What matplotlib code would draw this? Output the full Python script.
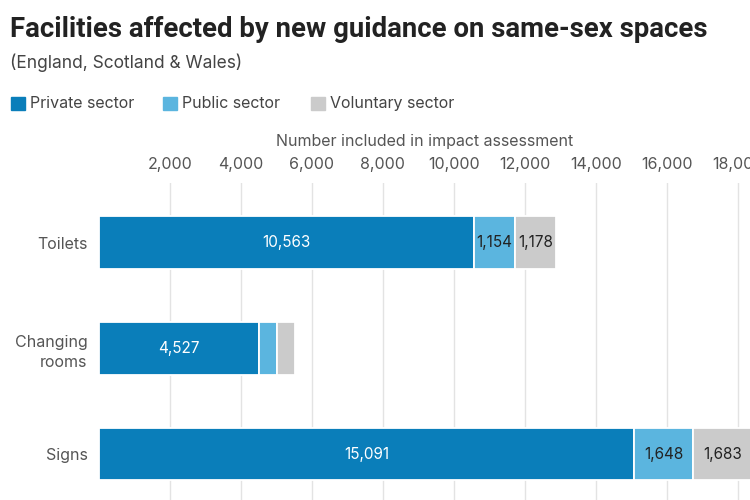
import numpy as np
import matplotlib.pyplot as plt
from matplotlib.patches import Rectangle

plt.rcParams['font.family'] = ['Inter', 'DejaVu Sans']

# data
categories = ["Toilets", "Changing\nrooms", "Signs"]
private = np.array([10563, 4527, 15091])
public = np.array([1154, 490, 1648])
voluntary = np.array([1178, 500, 1683])
series_names = ["Private sector", "Public sector", "Voluntary sector"]
x_ticks = [2000, 4000, 6000, 8000, 10000, 12000, 14000, 16000, 18000]

colors = ["#0a7eba", "#5bb5df", "#cbcbcb"]

fig = plt.figure(figsize=(7.5, 5), dpi=100)
ax = fig.add_axes([98.7 / 750, 0, 1 - 98.7 / 750, 317 / 500])

y = np.arange(len(categories))
lefts = np.zeros(len(categories))
for vals, c in zip([private, public, voluntary], colors):
    ax.barh(y, vals, left=lefts, height=0.5, color=c, edgecolor="white", linewidth=1.3, zorder=3)
    lefts = lefts + vals

# value labels (skip the tiny changing-room segments)
for i in range(len(categories)):
    ax.text(private[i] / 2, y[i], f"{private[i]:,}", ha="center", va="center",
            color="white", fontsize=11, zorder=4)
    if public[i] > 1000:
        ax.text(private[i] + public[i] / 2, y[i], f"{public[i]:,}", ha="center",
                va="center", color="#222222", fontsize=11, zorder=4)
        ax.text(private[i] + public[i] + voluntary[i] / 2, y[i], f"{voluntary[i]:,}",
                ha="center", va="center", color="#222222", fontsize=11, zorder=4)

ax.set_xlim(0, 18346)
ax.set_ylim(2.435, -0.563)
ax.set_yticks(y)
ax.set_yticklabels(categories, fontsize=11.5, color="#555555", linespacing=1.45)
ax.set_xticks(x_ticks)
ax.set_xticklabels([f"{t:,}" for t in x_ticks], fontsize=11.5, color="#555555")
ax.xaxis.tick_top()
ax.tick_params(axis="both", length=0)
ax.tick_params(axis="x", pad=8)
ax.tick_params(axis="y", pad=8)
ax.xaxis.set_label_position("top")
ax.set_xlabel("Number included in impact assessment", fontsize=11.5, color="#555555", labelpad=8)
ax.grid(axis="x", color="#e3e3e3", linewidth=1, zorder=0)
for s in ax.spines.values():
    s.set_visible(False)

# title and subtitle
fig.text(10 / 750, 1 - 37 / 500, "Facilities affected by new guidance on same-sex spaces",
         fontsize=19.8, fontweight="bold", color="#222222", va="baseline",
         family=["Roboto", "DejaVu Sans"])
fig.text(10 / 750, 1 - 68 / 500, "(England, Scotland & Wales)",
         fontsize=12.5, color="#444444", va="baseline")

# legend
leg_x = [10.5, 163, 311]
for lx, name, c in zip(leg_x, series_names, colors):
    fig.patches.append(Rectangle((lx / 750, 1 - 110 / 500), 14 / 750, 13 / 500,
                                 transform=fig.transFigure, color=c))
    fig.text((lx + 19) / 750, 1 - 108 / 500, name, fontsize=11.5, color="#444444", va="baseline")

plt.savefig("out.png", dpi=100)
